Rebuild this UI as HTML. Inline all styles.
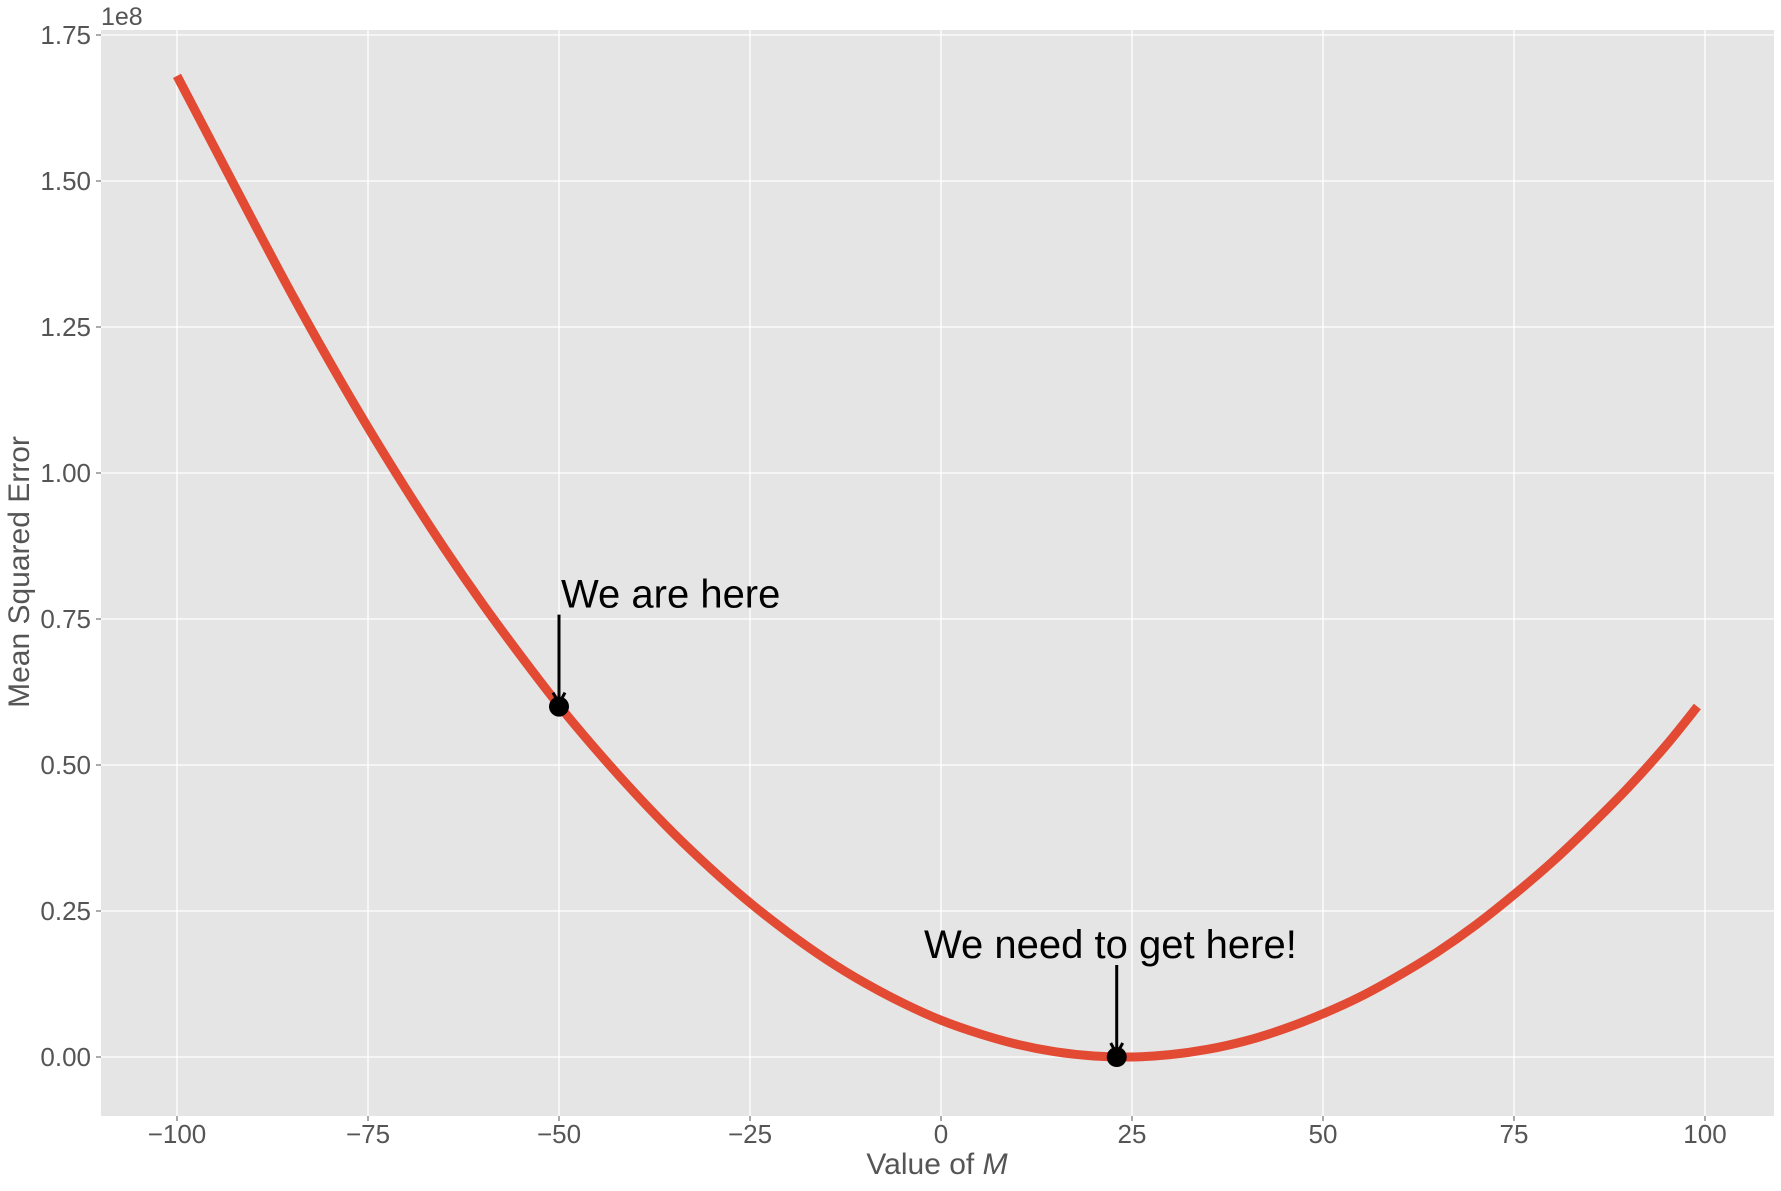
<!DOCTYPE html>
<html><head><meta charset="utf-8"><style>
body{margin:0;background:#fff}
svg text{font-family:"Liberation Sans","DejaVu Sans",sans-serif}
</style></head><body>
<svg id="chart" width="1781" height="1186" xmlns="http://www.w3.org/2000/svg">
<rect x="101" y="30" width="1673" height="1086" fill="#e5e5e5"/>
<g id="grid"></g><g id="ticks"></g>
<path id="curve" fill="none" stroke="#E24A33" stroke-width="9"/>
<g id="ann"></g>
<text x="101" y="25" font-size="25" fill="#555">1e8</text>
<text transform="translate(29,572) rotate(-90)" text-anchor="middle" font-size="30" fill="#555">Mean Squared Error</text>
<text x="937" y="1174" text-anchor="middle" font-size="30" fill="#555">Value of <tspan font-style="italic">M</tspan></text>
</svg>
<script>
const xTicks=[-100,-75,-50,-25,0,25,50,75,100];
const yTicks=[0,0.25,0.5,0.75,1.0,1.25,1.5,1.75];
const mValues=[-100,-95,-90,-85,-80,-75,-70,-65,-60,-55,-50,-45,-40,-35,-30,-25,-20,-15,-10,-5,0,5,10,15,20,25,30,35,40,45,50,55,60,65,70,75,80,85,90,95,99];
const mseValues=[1.68,1.555,1.43,1.307,1.19,1.078,0.972,0.871,0.776,0.687,0.602,0.524,0.451,0.383,0.321,0.264,0.213,0.167,0.127,0.0925,0.063,0.040,0.0216,0.0089,0.0018,0.0001,0.004,0.0133,0.028,0.0485,0.074,0.104,0.14,0.18,0.226,0.278,0.334,0.396,0.462,0.535,0.60];
const pointM=[-50,23];
const pointMse=[0.60,0];
const pointLabels=["We are here","We need to get here!"];
const X=v=>941+v*7.64, Y=v=>1057-v*584;
const NS="http://www.w3.org/2000/svg";
function mk(t,a,p){const e=document.createElementNS(NS,t);for(const k in a)e.setAttribute(k,a[k]);p.appendChild(e);return e;}
const g=document.getElementById('grid'),tk=document.getElementById('ticks');
xTicks.forEach(v=>{
 const l=mk('line',{x1:X(v),x2:X(v),y1:30,y2:1116,stroke:'#fff','stroke-width':1.3},g);
 
 
 mk('line',{x1:X(v),x2:X(v),y1:1116,y2:1121,stroke:'#555'},tk);
 const t=mk('text',{x:X(v),y:1143,'text-anchor':'middle','font-size':26,fill:'#555'},tk);
 t.textContent=(v<0?'\u2212'+(-v):v);
 
 
});
yTicks.forEach(v=>{
 const l=mk('line',{x1:101,x2:1774,y1:Y(v),y2:Y(v),stroke:'#fff','stroke-width':1.3},g);
 
 
 mk('line',{x1:96,x2:101,y1:Y(v),y2:Y(v),stroke:'#555'},tk);
 const t=mk('text',{x:91,y:Y(v)+9,'text-anchor':'end','font-size':26,fill:'#555'},tk);
 t.textContent=v.toFixed(2);
 
 
});
const P=mValues.map((m,i)=>[X(m),Y(mseValues[i])]);
let d='M'+P[0][0]+','+P[0][1];
for(let i=0;i<P.length-1;i++){
 const p0=P[Math.max(0,i-1)],p1=P[i],p2=P[i+1],p3=P[Math.min(P.length-1,i+2)];
 const c1=[p1[0]+(p2[0]-p0[0])/6,p1[1]+(p2[1]-p0[1])/6],c2=[p2[0]-(p3[0]-p1[0])/6,p2[1]-(p3[1]-p1[1])/6];
 d+=` C${c1[0]},${c1[1]} ${c2[0]},${c2[1]} ${p2[0]},${p2[1]}`;
}
document.getElementById('curve').setAttribute('d',d);
const ann=document.getElementById('ann');
const textX=[X(-50)+2,924];
pointM.forEach((m,i)=>{
 const px=X(m),py=Y(pointMse[i]);
 const c=mk('circle',{cx:px,cy:py,r:10,fill:'#000'},ann);
 
 
 mk('line',{x1:px,x2:px,y1:py-92,y2:py-4,stroke:'#000','stroke-width':3},ann);
 mk('path',{d:`M${px-6},${py-14} L${px},${py-3} L${px+6},${py-14}`,fill:'none',stroke:'#000','stroke-width':3},ann);
 const t=mk('text',{x:textX[i],y:py-99,'font-size':40,fill:'#000'},ann);
 t.textContent=pointLabels[i];
 
 
});
</script>
</body></html>
